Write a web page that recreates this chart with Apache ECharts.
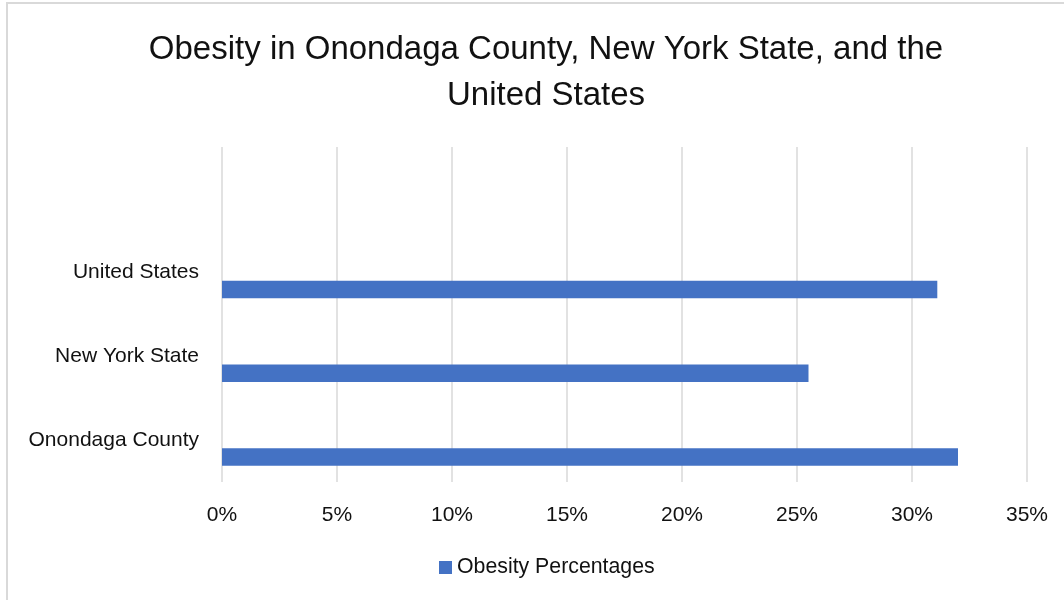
<!DOCTYPE html>
<html>
<head>
<meta charset="utf-8">
<script src="https://cdn.jsdelivr.net/npm/echarts@6/dist/echarts.min.js"></script>
<style>html,body{margin:0;padding:0;background:#fff}#c{width:1064px;height:600px}</style>
</head>
<body>
<div id="c"></div>
<script>
var categories = ['Onondaga County', 'New York State', 'United States', ''];
var obesityValues = [0.320, 0.255, 0.311, null];
var emptyValues = [null, null, null, null];
var tickMin = 0, tickMax = 0.35, tickStep = 0.05;
var seriesName = 'Obesity Percentages';
var titleText = 'Obesity in Onondaga County, New York State, and the\nUnited States';

var FONT = '"Liberation Sans", Arial, sans-serif';
var chart = echarts.init(document.getElementById('c'), null, {renderer: 'canvas'});
chart.setOption({
  animation: false,
  backgroundColor: '#fff',
  graphic: [{
    type: 'rect', shape: {x: 7, y: 3, width: 1200, height: 800},
    style: {fill: 'none', stroke: '#d9d9d9', lineWidth: 2}, silent: true
  }],
  title: {
    text: titleText, left: 541, top: 22, textAlign: 'center',
    textStyle: {fontFamily: FONT, fontSize: 33, fontWeight: 'normal', color: '#111', lineHeight: 46}
  },
  legend: {
    data: [seriesName], left: 439, top: 557, padding: 0, icon: 'rect', itemWidth: 13, itemHeight: 13,
    textStyle: {fontFamily: FONT, fontSize: 21.3, color: '#111'}
  },
  grid: {left: 222, right: 37, top: 147, bottom: 118, containLabel: false},
  xAxis: {
    type: 'value', min: tickMin, max: tickMax, interval: tickStep,
    axisLine: {show: false}, axisTick: {show: false},
    splitLine: {show: true, lineStyle: {color: '#d9d9d9', width: 1.5}},
    axisLabel: {
      fontFamily: FONT, fontSize: 21, color: '#111', margin: 23,
      formatter: function (v) { return Math.round(v * 100) + '%'; }
    }
  },
  yAxis: {
    type: 'category', data: categories,
    axisLine: {show: false}, axisTick: {show: false},
    axisLabel: {fontFamily: FONT, fontSize: 21, color: '#111', margin: 23}
  },
  series: [
    {name: 'empty', type: 'bar', data: emptyValues, barWidth: 17.5, barGap: '94%', itemStyle: {color: '#4472c4'}},
    {name: seriesName, type: 'bar', data: obesityValues, barWidth: 17.5, barGap: '94%', itemStyle: {color: '#4472c4'}}
  ]
});
</script>
</body>
</html>
